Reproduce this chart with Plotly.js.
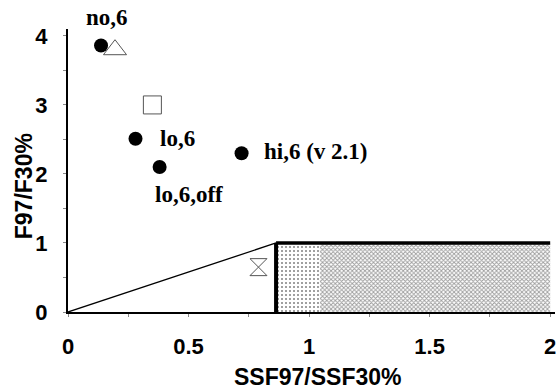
<!DOCTYPE html>
<html><head><meta charset="utf-8">
<script src="https://cdn.plot.ly/plotly-3.0.1.min.js"></script>
<style>html,body{margin:0;padding:0;background:#fff}#c{width:560px;height:390px}</style>
</head><body><div id="c"></div>
<script>
// filled points (labelled runs)
const dotX = [0.137, 0.28, 0.38, 0.72];
const dotY = [3.86, 2.51, 2.10, 2.30];
const dotLabels = ["no,6", "lo,6", "lo,6,off", "hi,6 (v 2.1)"];
const labelX = [0.162, 0.455, 0.50, 1.03];
const labelY = [4.0, 2.52, 1.70, 2.32];
const labelShift = [18, 0, 0, 0];
// open symbols
const triX = [0.195], triY = [3.80];
const sqX = [0.35], sqY = [3.00];
const hgX = [0.79], hgY = [0.65];
// boundary lines
const diagX = [0, 0.863], diagY = [0, 1];
const vertX = [0.863, 0.863], vertY = [0, 1];
const horzX = [0.863, 2.0], horzY = [1, 1];
// shaded regions
const regAX = [0.863, 1.045, 1.045, 0.863, 0.863], regAY = [0, 0, 1, 1, 0];
const regBX = [1.045, 2.0, 2.0, 1.045, 1.045], regBY = [0, 0, 1, 1, 0];
// axis ticks
const xTicks = [0, 0.5, 1, 1.5, 2], xTickText = ["0", "0.5", "1", "1.5", "2"];
const yTicks = [0, 1, 2, 3, 4], yTickText = ["0", "1", "2", "3", "4"];
const markX = [1.0], markY = [-0.04];

const traces = [
  {x: regAX, y: regAY, mode: 'none', fill: 'toself', fillcolor: 'rgba(0,0,0,0)',
   fillpattern: {shape: '.', fgcolor: '#808080', bgcolor: '#ffffff', size: 4, solidity: 0.2}, hoverinfo: 'skip'},
  {x: regBX, y: regBY, mode: 'none', fill: 'toself', fillcolor: 'rgba(0,0,0,0)',
   fillpattern: {shape: 'x', fgcolor: '#9c9c9c', bgcolor: '#ffffff', size: 3, solidity: 0.5}, hoverinfo: 'skip'},
  {x: diagX, y: diagY, mode: 'lines', line: {color: '#000', width: 1.3}},
  {x: vertX, y: vertY, mode: 'lines', line: {color: '#000', width: 4}},
  {x: horzX, y: horzY, mode: 'lines', line: {color: '#000', width: 3.5}},
  {x: dotX, y: dotY, mode: 'markers', marker: {symbol: 'circle', size: 14, color: '#000'}},
  {x: triX, y: triY, mode: 'markers', marker: {symbol: 'triangle-up-open', size: 20, color: '#555', line: {width: 1}}},
  {x: sqX, y: sqY, mode: 'markers', marker: {symbol: 'square-open', size: 18, color: '#555', line: {width: 1}}},
  {x: hgX, y: hgY, mode: 'markers', marker: {symbol: 'hourglass-open', size: 17, color: '#555', line: {width: 1}}},
  {x: markX, y: markY, mode: 'markers', cliponaxis: false, marker: {symbol: 'triangle-down', size: 5, color: '#000'}}
];

const annotations = dotLabels.map((t, i) => ({
  x: labelX[i], y: labelY[i], xref: 'x', yref: 'y', yshift: labelShift[i], text: '<b>' + t + '</b>', showarrow: false,
  xanchor: 'center', yanchor: 'middle',
  font: {family: 'Liberation Serif, Times New Roman, serif', size: 23, color: '#000'}
}));
annotations.push({x: 0.513, y: -0.23, xref: 'paper', yref: 'paper', text: '<b>SSF97/SSF30%</b>', showarrow: false,
  xanchor: 'center', yanchor: 'middle',
  font: {family: 'Liberation Sans, Arial, sans-serif', size: 23, color: '#000'}});
annotations.push({x: -0.090, y: 0.445, xref: 'paper', yref: 'paper', text: '<b>F97/F30%</b>', showarrow: false, textangle: -90,
  xanchor: 'center', yanchor: 'middle',
  font: {family: 'Liberation Sans, Arial, sans-serif', size: 23, color: '#000'}});

const layout = {
  width: 560, height: 390, showlegend: false,
  paper_bgcolor: '#fff', plot_bgcolor: '#fff',
  margin: {l: 68, r: 5, t: 29, b: 78},
  font: {family: 'Liberation Sans, Arial, sans-serif', color: '#000'},
  xaxis: {range: [0, 2.02], tickvals: xTicks, ticktext: xTickText, showgrid: false, zeroline: false,
    showline: true, linecolor: '#000', linewidth: 2, ticks: 'outside', ticklen: 3, tickcolor: '#888',
    minor: {dtick: 0.25, tick0: 0, ticks: 'outside', ticklen: 3, tickcolor: '#888'},
    tickfont: {size: 22, family: 'Liberation Sans, Arial, sans-serif', weight: 'bold'}, ticklabelstandoff: 11},
  yaxis: {range: [0, 4.1], tickvals: yTicks, ticktext: yTickText, showgrid: false, zeroline: false,
    showline: true, linecolor: '#000', linewidth: 2, ticks: 'outside', ticklen: 3, tickcolor: '#888',
    minor: {dtick: 0.5, tick0: 0, ticks: 'outside', ticklen: 3, tickcolor: '#888'},
    tickfont: {size: 22, family: 'Liberation Sans, Arial, sans-serif', weight: 'bold'}, ticklabelstandoff: 11},
  annotations: annotations
};
Plotly.newPlot('c', traces, layout, {staticPlot: true, displayModeBar: false});
</script></body></html>
